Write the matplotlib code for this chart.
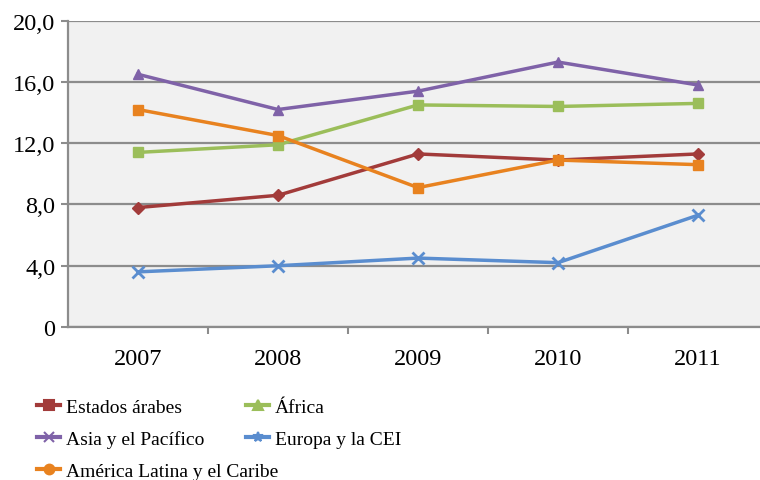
import matplotlib
matplotlib.use("Agg")
import matplotlib.pyplot as plt
from matplotlib.lines import Line2D

years = ["2007", "2008", "2009", "2010", "2011"]
series_names = ["Estados árabes", "África", "Asia y el Pacífico", "Europa y la CEI",
                "América Latina y el Caribe"]
estados_arabes = [7.8, 8.6, 11.3, 10.9, 11.3]
africa = [11.4, 11.9, 14.5, 14.4, 14.6]
asia_pacifico = [16.5, 14.2, 15.4, 17.3, 15.8]
europa_cei = [3.6, 4.0, 4.5, 4.2, 7.3]
america_latina = [14.2, 12.5, 9.1, 10.9, 10.6]
y_ticks = [0, 4, 8, 12, 16, 20]
y_tick_labels = ["0", "4,0", "8,0", "12,0", "16,0", "20,0"]

colors = ["#A23B3A", "#9BBE5A", "#7F62A8", "#5A8DCF", "#E8821F"]
plot_markers = ["D", "s", "^", "x", "s"]
legend_markers = ["s", "^", "x", "*", "o"]
data = [estados_arabes, africa, asia_pacifico, europa_cei, america_latina]

plt.rcParams["font.family"] = ["Liberation Serif", "DejaVu Serif"]

fig = plt.figure(figsize=(7.6, 4.81), dpi=100)
ax = fig.add_axes([68 / 760, 1 - 328 / 481, 700 / 760, (328 - 21.7) / 481])
ax.set_facecolor("#F1F1F1")

x = list(range(len(years)))
for vals, c, m in zip(data, colors, plot_markers):
    ms = 6 if m == "D" else (8 if m == "x" else 7.5)
    ax.plot(x, vals, color=c, lw=2.5, marker=m, ms=ms, mew=2 if m == "x" else 1,
            mec=c, mfc=c, zorder=3)

ax.set_xlim(-0.5, 4.5)
ax.set_ylim(0, 20)
ax.set_yticks(y_ticks)
ax.set_yticklabels(y_tick_labels, fontsize=17.5)
ax.set_xticks(x)
ax.set_xticklabels(years, fontsize=17.5)
ax.set_xticks([0.5, 1.5, 2.5, 3.5], minor=True)
ax.tick_params(axis="x", which="major", length=0, pad=15)
ax.tick_params(axis="x", which="minor", length=5, width=1.5, color="#8C8C8C", direction="out")
ax.tick_params(axis="y", length=5, width=1.5, color="#8C8C8C", pad=4)
ax.grid(axis="y", color="#8C8C8C", lw=1.6, zorder=1)
ax.set_axisbelow(True)
for s in ["top", "right"]:
    ax.spines[s].set_visible(False)
for s in ["left", "bottom"]:
    ax.spines[s].set_color("#8C8C8C")
    ax.spines[s].set_linewidth(1.6)

handles = [Line2D([], [], color=c, lw=3, marker=m, ms=7, mec=c, mfc=c, mew=1.5)
           for c, m in zip(colors, legend_markers)]

common = dict(loc="upper left", frameon=False, fontsize=14, handlelength=1.2,
              handletextpad=0.3, labelspacing=0.75, borderpad=0, borderaxespad=0)
leg1 = fig.legend([handles[0], handles[2], handles[4]],
                  [series_names[0], series_names[2], series_names[4]],
                  bbox_to_anchor=(37 / 760, 1 - 399 / 481), **common)
leg2 = fig.legend([handles[1], handles[3]], [series_names[1], series_names[3]],
                  bbox_to_anchor=(246 / 760, 1 - 399 / 481), **common)

fig.savefig("out.png", dpi=100)
